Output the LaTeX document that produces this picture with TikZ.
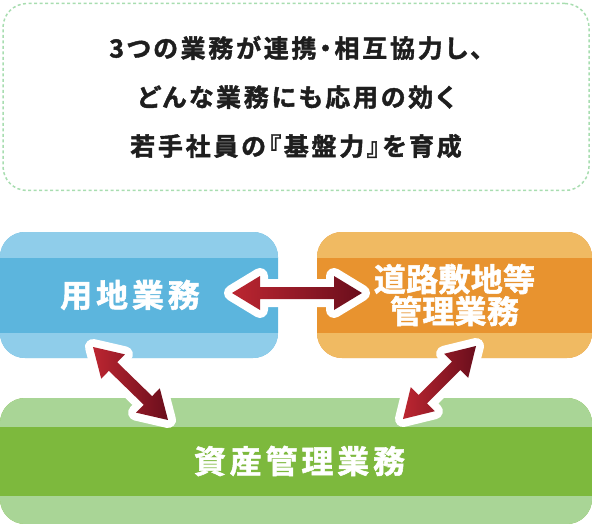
\documentclass[tikz,border=0pt]{standalone}
\usepackage{fontspec}
\usetikzlibrary{calc}
\newfontfamily\jpfont[LetterSpace=11, RawFeature={+palt}, FakeBold=1.6]{Noto Sans CJK JP Bold}
\newfontfamily\taskfont[LetterSpace=12, FakeBold=1.6]{Noto Sans CJK JP Bold}
\newfontfamily\tasknarrow[LetterSpace=1, FakeBold=1.6]{Noto Sans CJK JP Bold}
\definecolor{textblack}{HTML}{1E1E1E}
\definecolor{goalgreen}{HTML}{A8DDB0}
\definecolor{bluelite}{HTML}{8FCDEA}
\definecolor{bluemid}{HTML}{5CB5DD}
\definecolor{orangelite}{HTML}{F0BA62}
\definecolor{orangemid}{HTML}{E8932F}
\definecolor{greenlite}{HTML}{A9D596}
\definecolor{greenmid}{HTML}{7DB93D}
\definecolor{redlite}{HTML}{BC2631}
\definecolor{reddark}{HTML}{6A0E1C}
% double arrow outline between two points
\newcommand{\biarrow}[2]{(#1) -- ($(#1)!28pt!(#2)!17pt!90:(#2)$) -- ($(#1)!28pt!(#2)!6pt!90:(#2)$)
  -- ($(#2)!28pt!(#1)!6pt!-90:(#1)$) -- ($(#2)!28pt!(#1)!17pt!-90:(#1)$) -- (#2)
  -- ($(#2)!28pt!(#1)!17pt!90:(#1)$) -- ($(#2)!28pt!(#1)!6pt!90:(#1)$)
  -- ($(#1)!28pt!(#2)!6pt!-90:(#2)$) -- ($(#1)!28pt!(#2)!17pt!-90:(#2)$) -- cycle}
\begin{document}
\begin{tikzpicture}[x=1pt, y=-1pt,
  goalbox/.style={draw=goalgreen, dash pattern=on 3pt off 2.5pt, line width=1.5pt, rounded corners=24pt, minimum width=586pt, minimum height=187pt, align=center, text=textblack, font=\jpfont\fontsize{25}{49}\selectfont},
  taskbox/.style n args={5}{rounded corners=25pt, inner sep=0pt, minimum height=126pt, minimum width=#1, fill=#2, text=white, align=center,
    path picture={\fill[#3, sharp corners] (path picture bounding box.north west) rectangle ([yshift=-#4]path picture bounding box.north east);
      \fill[#3, sharp corners] (path picture bounding box.south west) rectangle ([yshift=#5]path picture bounding box.south east);}},
  link/.style={left color=redlite, right color=reddark, preaction={draw=white, line width=16pt, line join=round}}]
\useasboundingbox (0,0) rectangle (592,524);
\node[goalbox] (goal) at (296,97) {3つの業務が連携・相互協力し、\\どんな業務にも応用の効く\\若手社員の『基盤力』を育成};
\node[taskbox={278pt}{bluemid}{bluelite}{26pt}{25pt}, font=\taskfont\fontsize{32}{32}\selectfont] (yochi) at (139,295) {\hspace*{-18pt}用地業務};
\node[taskbox={275pt}{orangemid}{orangelite}{26pt}{25pt}, font=\tasknarrow\fontsize{32}{32}\selectfont] (doro) at (454.5,295) {道路敷地等\\管理業務};
\node[taskbox={592pt}{greenmid}{greenlite}{29pt}{28pt}, font=\taskfont\fontsize{32}{32}\selectfont] (shisan) at (296,461) {\hspace*{7pt}資産管理業務};
\coordinate (yochi-e) at (232,293);
\coordinate (doro-w) at (362,293);
\coordinate (yochi-s) at (93,347);
\coordinate (shisan-nw) at (168,420);
\coordinate (doro-s) at (476,346);
\coordinate (shisan-ne) at (403,419);
\shade[link] \biarrow{yochi-e}{doro-w};
\shade[link] \biarrow{yochi-s}{shisan-nw};
\shade[link] \biarrow{shisan-ne}{doro-s};
\end{tikzpicture}
\end{document}
